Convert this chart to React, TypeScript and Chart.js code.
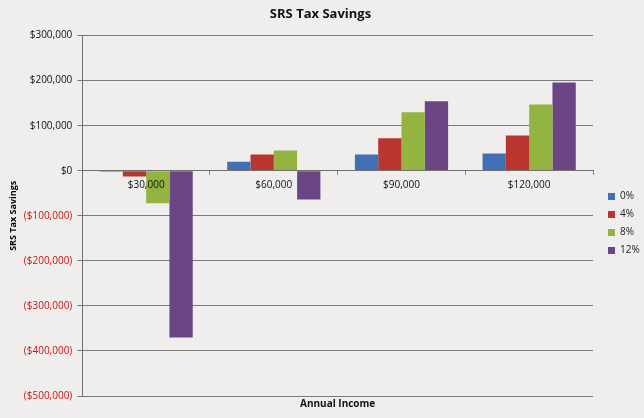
import { useEffect, useRef } from "react"
import { Chart, registerables } from "chart.js"

Chart.register(...registerables)

// income levels on the x axis
const incomes = ["$30,000", "$60,000", "$90,000", "$120,000"]

// tax savings per contribution growth rate
const rate0 = [-2000, 20000, 36000, 38500]
const rate4 = [-12500, 36000, 72000, 78500]
const rate8 = [-72000, 45000, 130000, 147000]
const rate12 = [-370000, -64000, 154000, 196000]

const seriesNames = ["0%", "4%", "8%", "12%"]
const seriesColors = ["#4170b3", "#b9352f", "#93b440", "#6c4684"]

const yMin = -500000
const yMax = 300000
const yStep = 100000

const FONT = "'Open Sans', 'Liberation Sans', sans-serif"

function money(v: number) {
  const s = "$" + Math.abs(v).toLocaleString("en-US")
  return v < 0 ? "(" + s + ")" : s
}

export default function App() {
  const canvasRef = useRef<HTMLCanvasElement>(null)
  const chartRef = useRef<Chart | null>(null)

  useEffect(() => {
    document.body.style.margin = "0"
    document.body.style.background = "#efeeec"
    if (!canvasRef.current) return
    if (chartRef.current) chartRef.current.destroy()

    const values = [rate0, rate4, rate8, rate12]

    chartRef.current = new Chart(canvasRef.current, {
      type: "bar",
      data: {
        labels: incomes,
        datasets: values.map((d, i) => ({
          label: seriesNames[i],
          data: d,
          backgroundColor: seriesColors[i],
          borderWidth: 0,
          barPercentage: 1,
          categoryPercentage: 0.73,
        })),
      },
      options: {
        animation: false,
        responsive: false,
        layout: { padding: { left: 1, right: 4, top: 0, bottom: 3 } },
        plugins: {
          title: {
            display: true,
            text: "SRS Tax Savings",
            color: "#111",
            font: { family: FONT, size: 13, weight: "bold" },
            padding: { top: 6, bottom: 14 },
          },
          subtitle: {
            display: true,
            position: "bottom",
            fullSize: false,
            text: "Annual Income",
            color: "#111",
            font: { family: FONT, size: 10, weight: "bold" },
            padding: { top: 2, bottom: 5 },
          },
          legend: {
            position: "right",
            maxWidth: 40,
            title: {
              display: true,
              text: " ",
              font: { family: FONT, size: 10 },
              padding: { top: 0, bottom: 20 },
            },
            labels: {
              boxWidth: 7,
              boxHeight: 7,
              padding: 8,
              color: "#222",
              font: { family: FONT, size: 10 },
            },
          },
          tooltip: { enabled: false },
        },
        scales: {
          x: {
            position: { y: 0 },
            grid: {
              display: true,
              drawOnChartArea: false,
              drawTicks: true,
              tickLength: 4,
              offset: true,
              color: "#8a8a8a",
            },
            border: { display: true, color: "#707070", z: 1 },
            ticks: {
              z: 1,
              color: "#111",
              padding: 4,
              font: { family: FONT, size: 10 },
            },
          },
          y: {
            min: yMin,
            max: yMax,
            grid: {
              color: "#7a7a7a",
              tickLength: 5,
            },
            border: { display: true, color: "#707070" },
            ticks: {
              stepSize: yStep,
              padding: 5,
              font: { family: FONT, size: 10 },
              color: (ctx) => (ctx.tick && ctx.tick.value < 0 ? "#d01010" : "#111"),
              callback: (v) => money(Number(v)),
            },
            title: {
              display: true,
              text: "SRS Tax Savings",
              color: "#000000",
              font: { family: FONT, size: 9, weight: "bold" },
              padding: { top: 7, bottom: 0 },
            },
          },
          // empty right-hand axis, only keeps a gap before the legend
          gap: {
            type: "linear",
            position: "right",
            display: true,
            grid: { drawOnChartArea: false, drawTicks: false },
            border: { display: false },
            ticks: { display: false },
            afterFit: (s) => {
              s.width = 7
            },
          },
        },
      },
    })

    return () => {
      if (chartRef.current) {
        chartRef.current.destroy()
        chartRef.current = null
      }
    }
  }, [])

  return (
    <div style={{ width: 644, height: 418, background: "#efeeec" }}>
      <canvas ref={canvasRef} width={644} height={418} />
    </div>
  )
}
